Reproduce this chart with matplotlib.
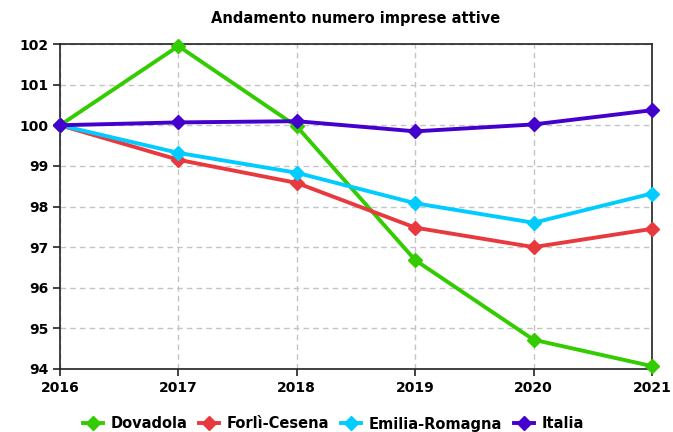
import numpy as np
import matplotlib
matplotlib.use("Agg")
import matplotlib.pyplot as plt

years = [2016, 2017, 2018, 2019, 2020, 2021]
dovadola = [100.0, 101.95, 99.97, 96.68, 94.72, 94.07]
forli = [100.0, 99.15, 98.58, 97.48, 97.0, 97.45]
emilia = [100.0, 99.32, 98.83, 98.08, 97.6, 98.32]
italia = [100.0, 100.07, 100.1, 99.85, 100.02, 100.37]

series = [
    ("Dovadola", dovadola, "#33cc00"),
    ("Forlì-Cesena", forli, "#e8393f"),
    ("Emilia-Romagna", emilia, "#00ccff"),
    ("Italia", italia, "#4400cc"),
]

plt.rcParams['font.family'] = ['DejaVu Sans']
fig = plt.figure(figsize=(6.73, 4.32), dpi=100)
ax = fig.add_axes([60/673, 63/432, 592/673, 325/432])

for name, vals, col in series:
    ax.plot(years, vals, color=col, lw=2.8, marker="D", ms=7, label=name,
            clip_on=False, zorder=3)

ax.set_xlim(2016, 2021)
ax.set_ylim(94, 102)
ax.set_yticks(range(94, 103))
ax.set_xticks(years)
ax.grid(True, ls=(0, (4, 3)), color="#c4c4c4", lw=1)
for s in ax.spines.values():
    s.set_color("#222222")
    s.set_linewidth(1.2)
ax.tick_params(direction="out", length=5, width=1.2, colors="#222222",
               labelsize=10, labelcolor="black")
for lab in ax.get_xticklabels() + ax.get_yticklabels():
    lab.set_fontweight("bold")
ax.set_title("Andamento numero imprese attive", fontsize=10.5,
             fontweight="bold", pad=15)

leg = fig.legend(loc="center", bbox_to_anchor=(0.495, 8/432), ncol=4,
                 frameon=False, handlelength=1.4,
                 handletextpad=0.5, columnspacing=0.8,
                 prop={"weight": "bold", "size": 10.5})
fig.savefig("out.png", dpi=100)
